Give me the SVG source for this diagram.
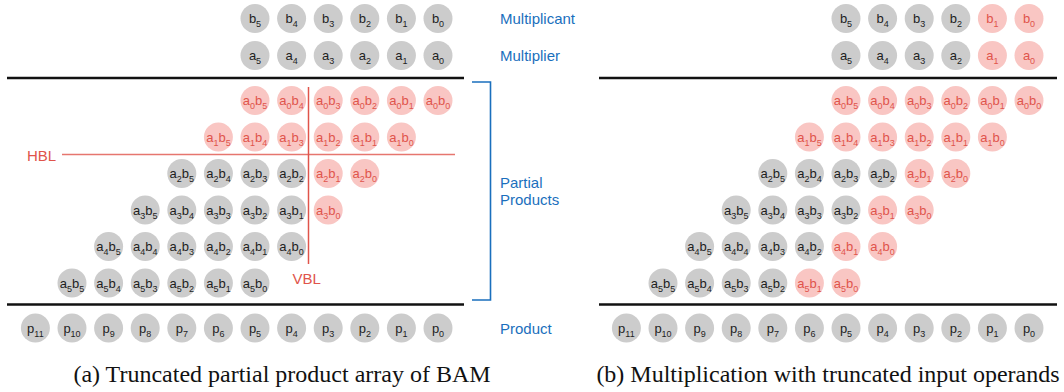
<svg xmlns="http://www.w3.org/2000/svg" width="1064" height="392" viewBox="0 0 1064 392">
<style>
  .cg { fill: #cccccc; }
  .cr { fill: #f9c6c3; }
  text { font-family: "Liberation Sans", Arial, sans-serif; }
  .tk, .tr { font-size: 13px; text-anchor: middle; }
  .tk { fill: #1e1e1e; }
  .tr { fill: #e0544b; }
  .s { font-size: 9px; }
  .rule { stroke: #111111; stroke-width: 2.5; fill: none; }
  .redline { stroke: #e0544b; stroke-width: 1.5; fill: none; }
  .redlabel { fill: #e0544b; font-size: 15px; }
  .bracket { stroke: #1a6fbd; stroke-width: 1.6; fill: none; }
  .blue { fill: #1a6fbd; font-size: 15px; }
  .cap { font-family: "Liberation Serif", "Times New Roman", serif; font-size: 24px; fill: #111111; text-anchor: middle; }
</style>

<!-- ===================== (a) left panel ===================== -->
<g id="panel-a">
  <!-- operand rows -->
  <g id="L-b5" transform="translate(255,18.5)"><circle class="cg" r="14.5"/><text class="tk" y="4.5">b<tspan class="s" dy="4">5</tspan></text></g>
  <g id="L-b4" transform="translate(291.6,18.5)"><circle class="cg" r="14.5"/><text class="tk" y="4.5">b<tspan class="s" dy="4">4</tspan></text></g>
  <g id="L-b3" transform="translate(328.2,18.5)"><circle class="cg" r="14.5"/><text class="tk" y="4.5">b<tspan class="s" dy="4">3</tspan></text></g>
  <g id="L-b2" transform="translate(364.8,18.5)"><circle class="cg" r="14.5"/><text class="tk" y="4.5">b<tspan class="s" dy="4">2</tspan></text></g>
  <g id="L-b1" transform="translate(401.4,18.5)"><circle class="cg" r="14.5"/><text class="tk" y="4.5">b<tspan class="s" dy="4">1</tspan></text></g>
  <g id="L-b0" transform="translate(438,18.5)"><circle class="cg" r="14.5"/><text class="tk" y="4.5">b<tspan class="s" dy="4">0</tspan></text></g>

  <g id="L-a5" transform="translate(255,55.5)"><circle class="cg" r="14.5"/><text class="tk" y="4.5">a<tspan class="s" dy="4">5</tspan></text></g>
  <g id="L-a4" transform="translate(291.6,55.5)"><circle class="cg" r="14.5"/><text class="tk" y="4.5">a<tspan class="s" dy="4">4</tspan></text></g>
  <g id="L-a3" transform="translate(328.2,55.5)"><circle class="cg" r="14.5"/><text class="tk" y="4.5">a<tspan class="s" dy="4">3</tspan></text></g>
  <g id="L-a2" transform="translate(364.8,55.5)"><circle class="cg" r="14.5"/><text class="tk" y="4.5">a<tspan class="s" dy="4">2</tspan></text></g>
  <g id="L-a1" transform="translate(401.4,55.5)"><circle class="cg" r="14.5"/><text class="tk" y="4.5">a<tspan class="s" dy="4">1</tspan></text></g>
  <g id="L-a0" transform="translate(438,55.5)"><circle class="cg" r="14.5"/><text class="tk" y="4.5">a<tspan class="s" dy="4">0</tspan></text></g>

  <!-- partial product rows -->
  <g id="L-a0b5" transform="translate(255,100.5)"><circle class="cr" r="14.5"/><text class="tr" y="4.5">a<tspan class="s" dy="4">0</tspan><tspan dy="-4">b</tspan><tspan class="s" dy="4">5</tspan></text></g>
  <g id="L-a0b4" transform="translate(291.6,100.5)"><circle class="cr" r="14.5"/><text class="tr" y="4.5">a<tspan class="s" dy="4">0</tspan><tspan dy="-4">b</tspan><tspan class="s" dy="4">4</tspan></text></g>
  <g id="L-a0b3" transform="translate(328.2,100.5)"><circle class="cr" r="14.5"/><text class="tr" y="4.5">a<tspan class="s" dy="4">0</tspan><tspan dy="-4">b</tspan><tspan class="s" dy="4">3</tspan></text></g>
  <g id="L-a0b2" transform="translate(364.8,100.5)"><circle class="cr" r="14.5"/><text class="tr" y="4.5">a<tspan class="s" dy="4">0</tspan><tspan dy="-4">b</tspan><tspan class="s" dy="4">2</tspan></text></g>
  <g id="L-a0b1" transform="translate(401.4,100.5)"><circle class="cr" r="14.5"/><text class="tr" y="4.5">a<tspan class="s" dy="4">0</tspan><tspan dy="-4">b</tspan><tspan class="s" dy="4">1</tspan></text></g>
  <g id="L-a0b0" transform="translate(438,100.5)"><circle class="cr" r="14.5"/><text class="tr" y="4.5">a<tspan class="s" dy="4">0</tspan><tspan dy="-4">b</tspan><tspan class="s" dy="4">0</tspan></text></g>

  <g id="L-a1b5" transform="translate(218.4,137)"><circle class="cr" r="14.5"/><text class="tr" y="4.5">a<tspan class="s" dy="4">1</tspan><tspan dy="-4">b</tspan><tspan class="s" dy="4">5</tspan></text></g>
  <g id="L-a1b4" transform="translate(255,137)"><circle class="cr" r="14.5"/><text class="tr" y="4.5">a<tspan class="s" dy="4">1</tspan><tspan dy="-4">b</tspan><tspan class="s" dy="4">4</tspan></text></g>
  <g id="L-a1b3" transform="translate(291.6,137)"><circle class="cr" r="14.5"/><text class="tr" y="4.5">a<tspan class="s" dy="4">1</tspan><tspan dy="-4">b</tspan><tspan class="s" dy="4">3</tspan></text></g>
  <g id="L-a1b2" transform="translate(328.2,137)"><circle class="cr" r="14.5"/><text class="tr" y="4.5">a<tspan class="s" dy="4">1</tspan><tspan dy="-4">b</tspan><tspan class="s" dy="4">2</tspan></text></g>
  <g id="L-a1b1" transform="translate(364.8,137)"><circle class="cr" r="14.5"/><text class="tr" y="4.5">a<tspan class="s" dy="4">1</tspan><tspan dy="-4">b</tspan><tspan class="s" dy="4">1</tspan></text></g>
  <g id="L-a1b0" transform="translate(401.4,137)"><circle class="cr" r="14.5"/><text class="tr" y="4.5">a<tspan class="s" dy="4">1</tspan><tspan dy="-4">b</tspan><tspan class="s" dy="4">0</tspan></text></g>

  <g id="L-a2b5" transform="translate(181.8,173.5)"><circle class="cg" r="14.5"/><text class="tk" y="4.5">a<tspan class="s" dy="4">2</tspan><tspan dy="-4">b</tspan><tspan class="s" dy="4">5</tspan></text></g>
  <g id="L-a2b4" transform="translate(218.4,173.5)"><circle class="cg" r="14.5"/><text class="tk" y="4.5">a<tspan class="s" dy="4">2</tspan><tspan dy="-4">b</tspan><tspan class="s" dy="4">4</tspan></text></g>
  <g id="L-a2b3" transform="translate(255,173.5)"><circle class="cg" r="14.5"/><text class="tk" y="4.5">a<tspan class="s" dy="4">2</tspan><tspan dy="-4">b</tspan><tspan class="s" dy="4">3</tspan></text></g>
  <g id="L-a2b2" transform="translate(291.6,173.5)"><circle class="cg" r="14.5"/><text class="tk" y="4.5">a<tspan class="s" dy="4">2</tspan><tspan dy="-4">b</tspan><tspan class="s" dy="4">2</tspan></text></g>
  <g id="L-a2b1" transform="translate(328.2,173.5)"><circle class="cr" r="14.5"/><text class="tr" y="4.5">a<tspan class="s" dy="4">2</tspan><tspan dy="-4">b</tspan><tspan class="s" dy="4">1</tspan></text></g>
  <g id="L-a2b0" transform="translate(364.8,173.5)"><circle class="cr" r="14.5"/><text class="tr" y="4.5">a<tspan class="s" dy="4">2</tspan><tspan dy="-4">b</tspan><tspan class="s" dy="4">0</tspan></text></g>

  <g id="L-a3b5" transform="translate(145.2,210)"><circle class="cg" r="14.5"/><text class="tk" y="4.5">a<tspan class="s" dy="4">3</tspan><tspan dy="-4">b</tspan><tspan class="s" dy="4">5</tspan></text></g>
  <g id="L-a3b4" transform="translate(181.8,210)"><circle class="cg" r="14.5"/><text class="tk" y="4.5">a<tspan class="s" dy="4">3</tspan><tspan dy="-4">b</tspan><tspan class="s" dy="4">4</tspan></text></g>
  <g id="L-a3b3" transform="translate(218.4,210)"><circle class="cg" r="14.5"/><text class="tk" y="4.5">a<tspan class="s" dy="4">3</tspan><tspan dy="-4">b</tspan><tspan class="s" dy="4">3</tspan></text></g>
  <g id="L-a3b2" transform="translate(255,210)"><circle class="cg" r="14.5"/><text class="tk" y="4.5">a<tspan class="s" dy="4">3</tspan><tspan dy="-4">b</tspan><tspan class="s" dy="4">2</tspan></text></g>
  <g id="L-a3b1" transform="translate(291.6,210)"><circle class="cg" r="14.5"/><text class="tk" y="4.5">a<tspan class="s" dy="4">3</tspan><tspan dy="-4">b</tspan><tspan class="s" dy="4">1</tspan></text></g>
  <g id="L-a3b0" transform="translate(328.2,210)"><circle class="cr" r="14.5"/><text class="tr" y="4.5">a<tspan class="s" dy="4">3</tspan><tspan dy="-4">b</tspan><tspan class="s" dy="4">0</tspan></text></g>

  <g id="L-a4b5" transform="translate(108.6,246.5)"><circle class="cg" r="14.5"/><text class="tk" y="4.5">a<tspan class="s" dy="4">4</tspan><tspan dy="-4">b</tspan><tspan class="s" dy="4">5</tspan></text></g>
  <g id="L-a4b4" transform="translate(145.2,246.5)"><circle class="cg" r="14.5"/><text class="tk" y="4.5">a<tspan class="s" dy="4">4</tspan><tspan dy="-4">b</tspan><tspan class="s" dy="4">4</tspan></text></g>
  <g id="L-a4b3" transform="translate(181.8,246.5)"><circle class="cg" r="14.5"/><text class="tk" y="4.5">a<tspan class="s" dy="4">4</tspan><tspan dy="-4">b</tspan><tspan class="s" dy="4">3</tspan></text></g>
  <g id="L-a4b2" transform="translate(218.4,246.5)"><circle class="cg" r="14.5"/><text class="tk" y="4.5">a<tspan class="s" dy="4">4</tspan><tspan dy="-4">b</tspan><tspan class="s" dy="4">2</tspan></text></g>
  <g id="L-a4b1" transform="translate(255,246.5)"><circle class="cg" r="14.5"/><text class="tk" y="4.5">a<tspan class="s" dy="4">4</tspan><tspan dy="-4">b</tspan><tspan class="s" dy="4">1</tspan></text></g>
  <g id="L-a4b0" transform="translate(291.6,246.5)"><circle class="cg" r="14.5"/><text class="tk" y="4.5">a<tspan class="s" dy="4">4</tspan><tspan dy="-4">b</tspan><tspan class="s" dy="4">0</tspan></text></g>

  <g id="L-a5b5" transform="translate(72,283)"><circle class="cg" r="14.5"/><text class="tk" y="4.5">a<tspan class="s" dy="4">5</tspan><tspan dy="-4">b</tspan><tspan class="s" dy="4">5</tspan></text></g>
  <g id="L-a5b4" transform="translate(108.6,283)"><circle class="cg" r="14.5"/><text class="tk" y="4.5">a<tspan class="s" dy="4">5</tspan><tspan dy="-4">b</tspan><tspan class="s" dy="4">4</tspan></text></g>
  <g id="L-a5b3" transform="translate(145.2,283)"><circle class="cg" r="14.5"/><text class="tk" y="4.5">a<tspan class="s" dy="4">5</tspan><tspan dy="-4">b</tspan><tspan class="s" dy="4">3</tspan></text></g>
  <g id="L-a5b2" transform="translate(181.8,283)"><circle class="cg" r="14.5"/><text class="tk" y="4.5">a<tspan class="s" dy="4">5</tspan><tspan dy="-4">b</tspan><tspan class="s" dy="4">2</tspan></text></g>
  <g id="L-a5b1" transform="translate(218.4,283)"><circle class="cg" r="14.5"/><text class="tk" y="4.5">a<tspan class="s" dy="4">5</tspan><tspan dy="-4">b</tspan><tspan class="s" dy="4">1</tspan></text></g>
  <g id="L-a5b0" transform="translate(255,283)"><circle class="cg" r="14.5"/><text class="tk" y="4.5">a<tspan class="s" dy="4">5</tspan><tspan dy="-4">b</tspan><tspan class="s" dy="4">0</tspan></text></g>

  <!-- product row -->
  <g id="L-p11" transform="translate(35.4,328)"><circle class="cg" r="14.5"/><text class="tk" y="4.5">p<tspan class="s" dy="4">11</tspan></text></g>
  <g id="L-p10" transform="translate(72,328)"><circle class="cg" r="14.5"/><text class="tk" y="4.5">p<tspan class="s" dy="4">10</tspan></text></g>
  <g id="L-p9" transform="translate(108.6,328)"><circle class="cg" r="14.5"/><text class="tk" y="4.5">p<tspan class="s" dy="4">9</tspan></text></g>
  <g id="L-p8" transform="translate(145.2,328)"><circle class="cg" r="14.5"/><text class="tk" y="4.5">p<tspan class="s" dy="4">8</tspan></text></g>
  <g id="L-p7" transform="translate(181.8,328)"><circle class="cg" r="14.5"/><text class="tk" y="4.5">p<tspan class="s" dy="4">7</tspan></text></g>
  <g id="L-p6" transform="translate(218.4,328)"><circle class="cg" r="14.5"/><text class="tk" y="4.5">p<tspan class="s" dy="4">6</tspan></text></g>
  <g id="L-p5" transform="translate(255,328)"><circle class="cg" r="14.5"/><text class="tk" y="4.5">p<tspan class="s" dy="4">5</tspan></text></g>
  <g id="L-p4" transform="translate(291.6,328)"><circle class="cg" r="14.5"/><text class="tk" y="4.5">p<tspan class="s" dy="4">4</tspan></text></g>
  <g id="L-p3" transform="translate(328.2,328)"><circle class="cg" r="14.5"/><text class="tk" y="4.5">p<tspan class="s" dy="4">3</tspan></text></g>
  <g id="L-p2" transform="translate(364.8,328)"><circle class="cg" r="14.5"/><text class="tk" y="4.5">p<tspan class="s" dy="4">2</tspan></text></g>
  <g id="L-p1" transform="translate(401.4,328)"><circle class="cg" r="14.5"/><text class="tk" y="4.5">p<tspan class="s" dy="4">1</tspan></text></g>
  <g id="L-p0" transform="translate(438,328)"><circle class="cg" r="14.5"/><text class="tk" y="4.5">p<tspan class="s" dy="4">0</tspan></text></g>

  <!-- rules, truncation lines, bracket and labels -->
  <g id="L-lines">
    <line class="rule" x1="7" y1="78" x2="464" y2="78"/>
    <line class="rule" x1="7" y1="304.5" x2="464" y2="304.5"/>
    <line class="redline" x1="62" y1="154.5" x2="455" y2="154.5" stroke-opacity="0.8"/>
    <line class="redline" x1="308.5" y1="87" x2="308.5" y2="264"/>
    <path class="bracket" d="M472 82 H490.5 V300 H472"/>
  </g>
  <text id="L-hbl" class="redlabel" x="27" y="160.5">HBL</text>
  <text id="L-vbl" class="redlabel" x="292.5" y="283.5">VBL</text>
  <text class="blue" x="500" y="23.5">Multiplicant</text>
  <text class="blue" x="500" y="60.5">Multiplier</text>
  <text class="blue" x="500" y="187.5">Partial</text>
  <text class="blue" x="500" y="205">Products</text>
  <text class="blue" x="500" y="333.5">Product</text>
  <text class="cap" x="282" y="382">(a) Truncated partial product array of BAM</text>
</g>

<!-- ===================== (b) right panel ===================== -->
<g id="panel-b">
  <g id="R-b5" transform="translate(846,18.5)"><circle class="cg" r="14.5"/><text class="tk" y="4.5">b<tspan class="s" dy="4">5</tspan></text></g>
  <g id="R-b4" transform="translate(882.6,18.5)"><circle class="cg" r="14.5"/><text class="tk" y="4.5">b<tspan class="s" dy="4">4</tspan></text></g>
  <g id="R-b3" transform="translate(919.2,18.5)"><circle class="cg" r="14.5"/><text class="tk" y="4.5">b<tspan class="s" dy="4">3</tspan></text></g>
  <g id="R-b2" transform="translate(955.8,18.5)"><circle class="cg" r="14.5"/><text class="tk" y="4.5">b<tspan class="s" dy="4">2</tspan></text></g>
  <g id="R-b1" transform="translate(992.4,18.5)"><circle class="cr" r="14.5"/><text class="tr" y="4.5">b<tspan class="s" dy="4">1</tspan></text></g>
  <g id="R-b0" transform="translate(1029,18.5)"><circle class="cr" r="14.5"/><text class="tr" y="4.5">b<tspan class="s" dy="4">0</tspan></text></g>

  <g id="R-a5" transform="translate(846,55.5)"><circle class="cg" r="14.5"/><text class="tk" y="4.5">a<tspan class="s" dy="4">5</tspan></text></g>
  <g id="R-a4" transform="translate(882.6,55.5)"><circle class="cg" r="14.5"/><text class="tk" y="4.5">a<tspan class="s" dy="4">4</tspan></text></g>
  <g id="R-a3" transform="translate(919.2,55.5)"><circle class="cg" r="14.5"/><text class="tk" y="4.5">a<tspan class="s" dy="4">3</tspan></text></g>
  <g id="R-a2" transform="translate(955.8,55.5)"><circle class="cg" r="14.5"/><text class="tk" y="4.5">a<tspan class="s" dy="4">2</tspan></text></g>
  <g id="R-a1" transform="translate(992.4,55.5)"><circle class="cr" r="14.5"/><text class="tr" y="4.5">a<tspan class="s" dy="4">1</tspan></text></g>
  <g id="R-a0" transform="translate(1029,55.5)"><circle class="cr" r="14.5"/><text class="tr" y="4.5">a<tspan class="s" dy="4">0</tspan></text></g>

  <g id="R-a0b5" transform="translate(846,100.5)"><circle class="cr" r="14.5"/><text class="tr" y="4.5">a<tspan class="s" dy="4">0</tspan><tspan dy="-4">b</tspan><tspan class="s" dy="4">5</tspan></text></g>
  <g id="R-a0b4" transform="translate(882.6,100.5)"><circle class="cr" r="14.5"/><text class="tr" y="4.5">a<tspan class="s" dy="4">0</tspan><tspan dy="-4">b</tspan><tspan class="s" dy="4">4</tspan></text></g>
  <g id="R-a0b3" transform="translate(919.2,100.5)"><circle class="cr" r="14.5"/><text class="tr" y="4.5">a<tspan class="s" dy="4">0</tspan><tspan dy="-4">b</tspan><tspan class="s" dy="4">3</tspan></text></g>
  <g id="R-a0b2" transform="translate(955.8,100.5)"><circle class="cr" r="14.5"/><text class="tr" y="4.5">a<tspan class="s" dy="4">0</tspan><tspan dy="-4">b</tspan><tspan class="s" dy="4">2</tspan></text></g>
  <g id="R-a0b1" transform="translate(992.4,100.5)"><circle class="cr" r="14.5"/><text class="tr" y="4.5">a<tspan class="s" dy="4">0</tspan><tspan dy="-4">b</tspan><tspan class="s" dy="4">1</tspan></text></g>
  <g id="R-a0b0" transform="translate(1029,100.5)"><circle class="cr" r="14.5"/><text class="tr" y="4.5">a<tspan class="s" dy="4">0</tspan><tspan dy="-4">b</tspan><tspan class="s" dy="4">0</tspan></text></g>

  <g id="R-a1b5" transform="translate(809.4,137)"><circle class="cr" r="14.5"/><text class="tr" y="4.5">a<tspan class="s" dy="4">1</tspan><tspan dy="-4">b</tspan><tspan class="s" dy="4">5</tspan></text></g>
  <g id="R-a1b4" transform="translate(846,137)"><circle class="cr" r="14.5"/><text class="tr" y="4.5">a<tspan class="s" dy="4">1</tspan><tspan dy="-4">b</tspan><tspan class="s" dy="4">4</tspan></text></g>
  <g id="R-a1b3" transform="translate(882.6,137)"><circle class="cr" r="14.5"/><text class="tr" y="4.5">a<tspan class="s" dy="4">1</tspan><tspan dy="-4">b</tspan><tspan class="s" dy="4">3</tspan></text></g>
  <g id="R-a1b2" transform="translate(919.2,137)"><circle class="cr" r="14.5"/><text class="tr" y="4.5">a<tspan class="s" dy="4">1</tspan><tspan dy="-4">b</tspan><tspan class="s" dy="4">2</tspan></text></g>
  <g id="R-a1b1" transform="translate(955.8,137)"><circle class="cr" r="14.5"/><text class="tr" y="4.5">a<tspan class="s" dy="4">1</tspan><tspan dy="-4">b</tspan><tspan class="s" dy="4">1</tspan></text></g>
  <g id="R-a1b0" transform="translate(992.4,137)"><circle class="cr" r="14.5"/><text class="tr" y="4.5">a<tspan class="s" dy="4">1</tspan><tspan dy="-4">b</tspan><tspan class="s" dy="4">0</tspan></text></g>

  <g id="R-a2b5" transform="translate(772.8,173.5)"><circle class="cg" r="14.5"/><text class="tk" y="4.5">a<tspan class="s" dy="4">2</tspan><tspan dy="-4">b</tspan><tspan class="s" dy="4">5</tspan></text></g>
  <g id="R-a2b4" transform="translate(809.4,173.5)"><circle class="cg" r="14.5"/><text class="tk" y="4.5">a<tspan class="s" dy="4">2</tspan><tspan dy="-4">b</tspan><tspan class="s" dy="4">4</tspan></text></g>
  <g id="R-a2b3" transform="translate(846,173.5)"><circle class="cg" r="14.5"/><text class="tk" y="4.5">a<tspan class="s" dy="4">2</tspan><tspan dy="-4">b</tspan><tspan class="s" dy="4">3</tspan></text></g>
  <g id="R-a2b2" transform="translate(882.6,173.5)"><circle class="cg" r="14.5"/><text class="tk" y="4.5">a<tspan class="s" dy="4">2</tspan><tspan dy="-4">b</tspan><tspan class="s" dy="4">2</tspan></text></g>
  <g id="R-a2b1" transform="translate(919.2,173.5)"><circle class="cr" r="14.5"/><text class="tr" y="4.5">a<tspan class="s" dy="4">2</tspan><tspan dy="-4">b</tspan><tspan class="s" dy="4">1</tspan></text></g>
  <g id="R-a2b0" transform="translate(955.8,173.5)"><circle class="cr" r="14.5"/><text class="tr" y="4.5">a<tspan class="s" dy="4">2</tspan><tspan dy="-4">b</tspan><tspan class="s" dy="4">0</tspan></text></g>

  <g id="R-a3b5" transform="translate(736.2,210)"><circle class="cg" r="14.5"/><text class="tk" y="4.5">a<tspan class="s" dy="4">3</tspan><tspan dy="-4">b</tspan><tspan class="s" dy="4">5</tspan></text></g>
  <g id="R-a3b4" transform="translate(772.8,210)"><circle class="cg" r="14.5"/><text class="tk" y="4.5">a<tspan class="s" dy="4">3</tspan><tspan dy="-4">b</tspan><tspan class="s" dy="4">4</tspan></text></g>
  <g id="R-a3b3" transform="translate(809.4,210)"><circle class="cg" r="14.5"/><text class="tk" y="4.5">a<tspan class="s" dy="4">3</tspan><tspan dy="-4">b</tspan><tspan class="s" dy="4">3</tspan></text></g>
  <g id="R-a3b2" transform="translate(846,210)"><circle class="cg" r="14.5"/><text class="tk" y="4.5">a<tspan class="s" dy="4">3</tspan><tspan dy="-4">b</tspan><tspan class="s" dy="4">2</tspan></text></g>
  <g id="R-a3b1" transform="translate(882.6,210)"><circle class="cr" r="14.5"/><text class="tr" y="4.5">a<tspan class="s" dy="4">3</tspan><tspan dy="-4">b</tspan><tspan class="s" dy="4">1</tspan></text></g>
  <g id="R-a3b0" transform="translate(919.2,210)"><circle class="cr" r="14.5"/><text class="tr" y="4.5">a<tspan class="s" dy="4">3</tspan><tspan dy="-4">b</tspan><tspan class="s" dy="4">0</tspan></text></g>

  <g id="R-a4b5" transform="translate(699.6,246.5)"><circle class="cg" r="14.5"/><text class="tk" y="4.5">a<tspan class="s" dy="4">4</tspan><tspan dy="-4">b</tspan><tspan class="s" dy="4">5</tspan></text></g>
  <g id="R-a4b4" transform="translate(736.2,246.5)"><circle class="cg" r="14.5"/><text class="tk" y="4.5">a<tspan class="s" dy="4">4</tspan><tspan dy="-4">b</tspan><tspan class="s" dy="4">4</tspan></text></g>
  <g id="R-a4b3" transform="translate(772.8,246.5)"><circle class="cg" r="14.5"/><text class="tk" y="4.5">a<tspan class="s" dy="4">4</tspan><tspan dy="-4">b</tspan><tspan class="s" dy="4">3</tspan></text></g>
  <g id="R-a4b2" transform="translate(809.4,246.5)"><circle class="cg" r="14.5"/><text class="tk" y="4.5">a<tspan class="s" dy="4">4</tspan><tspan dy="-4">b</tspan><tspan class="s" dy="4">2</tspan></text></g>
  <g id="R-a4b1" transform="translate(846,246.5)"><circle class="cr" r="14.5"/><text class="tr" y="4.5">a<tspan class="s" dy="4">4</tspan><tspan dy="-4">b</tspan><tspan class="s" dy="4">1</tspan></text></g>
  <g id="R-a4b0" transform="translate(882.6,246.5)"><circle class="cr" r="14.5"/><text class="tr" y="4.5">a<tspan class="s" dy="4">4</tspan><tspan dy="-4">b</tspan><tspan class="s" dy="4">0</tspan></text></g>

  <g id="R-a5b5" transform="translate(663,283)"><circle class="cg" r="14.5"/><text class="tk" y="4.5">a<tspan class="s" dy="4">5</tspan><tspan dy="-4">b</tspan><tspan class="s" dy="4">5</tspan></text></g>
  <g id="R-a5b4" transform="translate(699.6,283)"><circle class="cg" r="14.5"/><text class="tk" y="4.5">a<tspan class="s" dy="4">5</tspan><tspan dy="-4">b</tspan><tspan class="s" dy="4">4</tspan></text></g>
  <g id="R-a5b3" transform="translate(736.2,283)"><circle class="cg" r="14.5"/><text class="tk" y="4.5">a<tspan class="s" dy="4">5</tspan><tspan dy="-4">b</tspan><tspan class="s" dy="4">3</tspan></text></g>
  <g id="R-a5b2" transform="translate(772.8,283)"><circle class="cg" r="14.5"/><text class="tk" y="4.5">a<tspan class="s" dy="4">5</tspan><tspan dy="-4">b</tspan><tspan class="s" dy="4">2</tspan></text></g>
  <g id="R-a5b1" transform="translate(809.4,283)"><circle class="cr" r="14.5"/><text class="tr" y="4.5">a<tspan class="s" dy="4">5</tspan><tspan dy="-4">b</tspan><tspan class="s" dy="4">1</tspan></text></g>
  <g id="R-a5b0" transform="translate(846,283)"><circle class="cr" r="14.5"/><text class="tr" y="4.5">a<tspan class="s" dy="4">5</tspan><tspan dy="-4">b</tspan><tspan class="s" dy="4">0</tspan></text></g>

  <g id="R-p11" transform="translate(626.4,328)"><circle class="cg" r="14.5"/><text class="tk" y="4.5">p<tspan class="s" dy="4">11</tspan></text></g>
  <g id="R-p10" transform="translate(663,328)"><circle class="cg" r="14.5"/><text class="tk" y="4.5">p<tspan class="s" dy="4">10</tspan></text></g>
  <g id="R-p9" transform="translate(699.6,328)"><circle class="cg" r="14.5"/><text class="tk" y="4.5">p<tspan class="s" dy="4">9</tspan></text></g>
  <g id="R-p8" transform="translate(736.2,328)"><circle class="cg" r="14.5"/><text class="tk" y="4.5">p<tspan class="s" dy="4">8</tspan></text></g>
  <g id="R-p7" transform="translate(772.8,328)"><circle class="cg" r="14.5"/><text class="tk" y="4.5">p<tspan class="s" dy="4">7</tspan></text></g>
  <g id="R-p6" transform="translate(809.4,328)"><circle class="cg" r="14.5"/><text class="tk" y="4.5">p<tspan class="s" dy="4">6</tspan></text></g>
  <g id="R-p5" transform="translate(846,328)"><circle class="cg" r="14.5"/><text class="tk" y="4.5">p<tspan class="s" dy="4">5</tspan></text></g>
  <g id="R-p4" transform="translate(882.6,328)"><circle class="cg" r="14.5"/><text class="tk" y="4.5">p<tspan class="s" dy="4">4</tspan></text></g>
  <g id="R-p3" transform="translate(919.2,328)"><circle class="cg" r="14.5"/><text class="tk" y="4.5">p<tspan class="s" dy="4">3</tspan></text></g>
  <g id="R-p2" transform="translate(955.8,328)"><circle class="cg" r="14.5"/><text class="tk" y="4.5">p<tspan class="s" dy="4">2</tspan></text></g>
  <g id="R-p1" transform="translate(992.4,328)"><circle class="cg" r="14.5"/><text class="tk" y="4.5">p<tspan class="s" dy="4">1</tspan></text></g>
  <g id="R-p0" transform="translate(1029,328)"><circle class="cg" r="14.5"/><text class="tk" y="4.5">p<tspan class="s" dy="4">0</tspan></text></g>

  <g id="R-lines">
    <line class="rule" x1="599" y1="78" x2="1057" y2="78"/>
    <line class="rule" x1="599" y1="304.5" x2="1057" y2="304.5"/>
  </g>
  <text class="cap" x="828" y="382">(b) Multiplication with truncated input operands</text>
</g>
</svg>
